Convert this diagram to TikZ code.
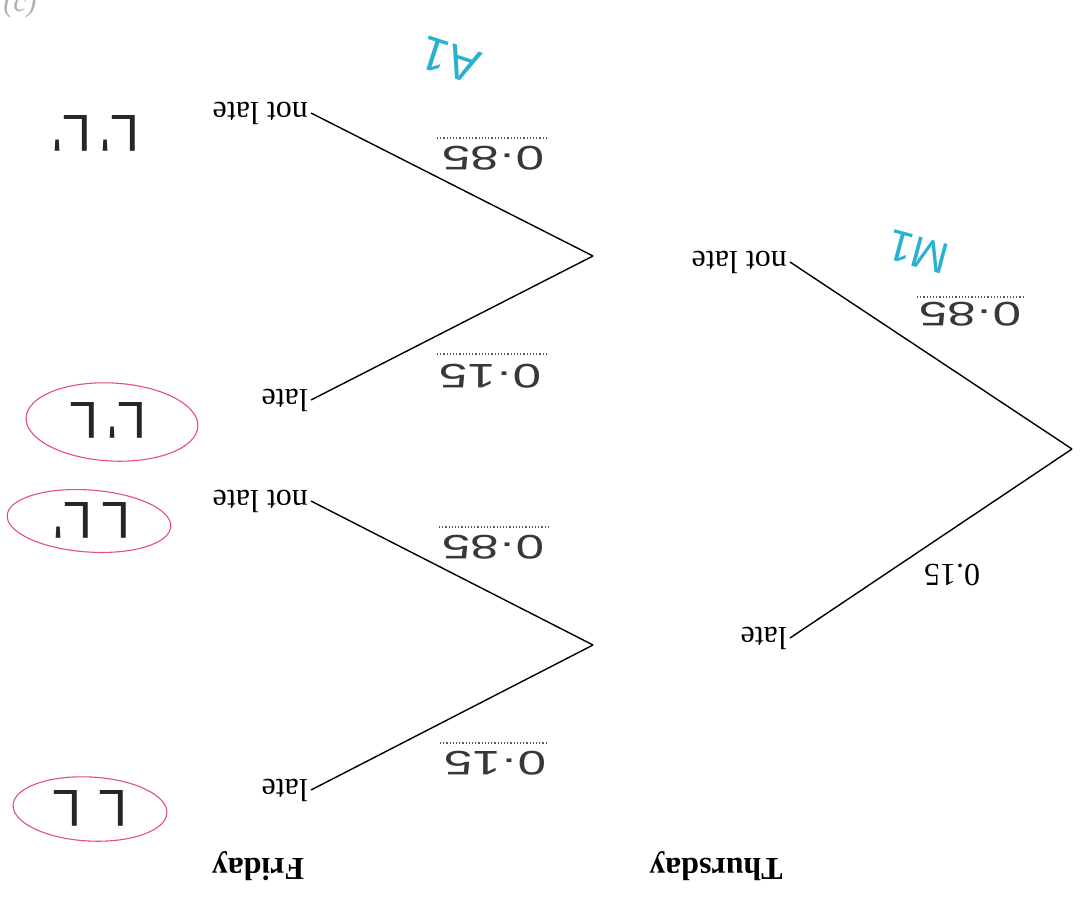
\documentclass[tikz,border=0pt]{standalone}
\usepackage{fontspec}
\setmainfont{Liberation Serif}
\newfontfamily\handfont{Liberation Sans}
\usepackage{graphicx}
\usetikzlibrary{shapes.geometric}
\definecolor{inkgrey}{RGB}{55,55,60}
\definecolor{markcyan}{RGB}{40,178,208}
\definecolor{circred}{RGB}{228,80,118}
\tikzset{
  branch/.style={line width=1.4pt, black},
  lbl/.style={rotate=180, font=\fontsize{32}{34}\selectfont, inner sep=3pt},
  head/.style={rotate=180, font=\fontsize{32}{34}\selectfont\bfseries, inner sep=0pt},
  hnum/.style={rotate=180, inner sep=0pt, text=inkgrey},
  dots/.style={dotted, line width=1.2pt, gray!70!black},
  hmark/.style={rotate=180, inner sep=0pt, text=markcyan},
  outc/.style={rotate=180, inner sep=0pt, text=black!85},
  ring/.style={draw=circred, line width=1.1pt, ellipse},
}
\newcommand{\hw}[1]{\scalebox{1.5}[1]{\handfont\fontsize{34}{36}\selectfont #1}}
\begin{document}
\begin{tikzpicture}[x=1pt,y=-1pt]
\useasboundingbox (0,0) rectangle (1081,900);
\fill[white] (0,0) rectangle (1081,900);

% corner label
\node[text=gray!60, font=\fontsize{30}{32}\selectfont\itshape, inner sep=0pt] (c) at (20,4) {(c)};

% branch points
\coordinate (root) at (1072,449);
\coordinate (fa) at (593,256);
\coordinate (fb) at (593,645);

% Thursday labels
\node[lbl, anchor=west] (tnl) at (790,262) {not late};
\node[lbl, anchor=west] (tl) at (790,638) {late};
% Friday labels
\node[lbl, anchor=west] (fnl1) at (311,113) {not late};
\node[lbl, anchor=west] (fl1) at (311,400) {late};
\node[lbl, anchor=west] (fnl2) at (311,501) {not late};
\node[lbl, anchor=west] (fl2) at (311,790) {late};

\draw[branch] (root) -- (tnl.west);
\draw[branch] (root) -- (tl.west);
\draw[branch] (fa) -- (fnl1.west);
\draw[branch] (fa) -- (fl1.west);
\draw[branch] (fb) -- (fnl2.west);
\draw[branch] (fb) -- (fl2.west);

% headings
\node[head] (fri) at (258,866) {Friday};
\node[head] (thu) at (716,866) {Thursday};

% printed probability
\node[lbl] (p15) at (952,575) {0.15};

% answer lines (dotted) with handwritten values
\coordinate (d1a) at (917,297); \coordinate (d1b) at (1025,297);
\draw[dots] (d1a) -- (d1b);
\node[hnum] (h1) at (970,314) {\hw{0·85}};

\coordinate (d2a) at (437,138); \coordinate (d2b) at (547,138);
\draw[dots] (d2a) -- (d2b);
\node[hnum] (h2) at (493,158) {\hw{0·85}};

\coordinate (d3a) at (437,354); \coordinate (d3b) at (547,354);
\draw[dots] (d3a) -- (d3b);
\node[hnum] (h3) at (490,376) {\hw{0·15}};

\coordinate (d4a) at (439,527); \coordinate (d4b) at (548,527);
\draw[dots] (d4a) -- (d4b);
\node[hnum] (h4) at (493,547) {\hw{0·85}};

\coordinate (d5a) at (440,743); \coordinate (d5b) at (548,743);
\draw[dots] (d5a) -- (d5b);
\node[hnum] (h5) at (495,763) {\hw{0·15}};

% marks
\node[hmark, rotate=-15] (m1) at (918,252) {\handfont\fontsize{44}{46}\selectfont M1};
\node[hmark, rotate=-18] (a1) at (450,60) {\handfont\fontsize{48}{50}\selectfont A1};

% outcomes
\node[outc] (o1) at (96,133) {\handfont\fontsize{52}{54}\selectfont L'\,L'};
\node[outc] (o2) at (108,420) {\handfont\fontsize{52}{54}\selectfont L'\,L};
\node[outc] (o3) at (92,520) {\handfont\fontsize{52}{54}\selectfont L\,L'};
\node[outc] (o4) at (90,808) {\handfont\fontsize{52}{54}\selectfont L\,\,L};

% red rings
\node[ring, minimum width=172pt, minimum height=78pt, rotate=-3] (r2) at (112,422) {};
\node[ring, minimum width=164pt, minimum height=62pt, rotate=-4] (r3) at (89,521) {};
\node[ring, minimum width=154pt, minimum height=64pt, rotate=-3] (r4) at (90,809) {};
\end{tikzpicture}
\end{document}
